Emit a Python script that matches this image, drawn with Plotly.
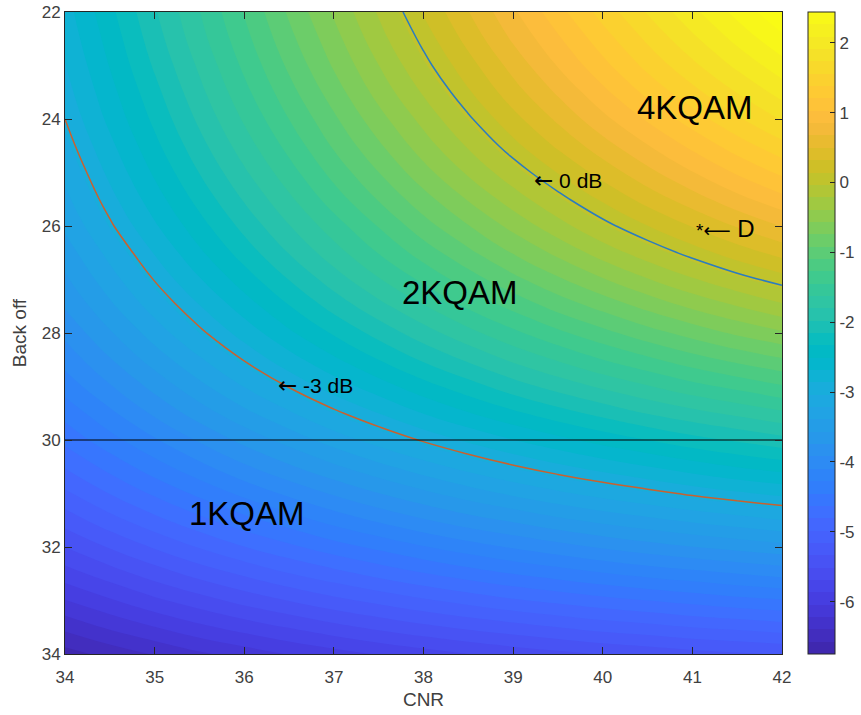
import plotly.graph_objects as go

# ---- data (values read / estimated from the reference) ----
cnr = [34, 34.5, 35, 35.5, 36, 36.5, 37, 37.5, 38, 38.5, 39, 39.5, 40, 40.5, 41, 41.5, 42]
back_off = [22, 22.5, 23, 23.5, 24, 24.5, 25, 25.5, 26, 26.5, 27, 27.5, 28, 28.5,
            29, 29.5, 30, 30.5, 31, 31.5, 32, 32.5, 33, 33.5, 34]
# margin in units of 0.01 dB, one row per back-off value
margin_cdb = [
    [-276, -238, -200, -163, -126, -89, -54, -19, 16, 49, 82, 114, 145, 175, 204, 232, 259],
    [-281, -244, -206, -169, -133, -97, -63, -28, 5, 38, 70, 100, 130, 159, 187, 214, 240],
    [-287, -250, -213, -177, -141, -106, -72, -39, -6, 25, 56, 86, 115, 143, 169, 195, 219],
    [-293, -257, -221, -185, -150, -116, -83, -50, -19, 12, 42, 70, 98, 125, 150, 174, 198],
    [-300, -264, -229, -194, -160, -127, -95, -63, -33, -3, 26, 53, 80, 105, 129, 153, 175],
    [-308, -273, -238, -204, -171, -139, -107, -77, -47, -19, 9, 35, 60, 84, 107, 129, 150],
    [-317, -282, -248, -215, -183, -152, -121, -92, -63, -36, -10, 15, 39, 62, 84, 105, 124],
    [-326, -292, -259, -227, -196, -166, -136, -108, -81, -55, -30, -6, 17, 39, 59, 79, 97],
    [-336, -303, -271, -240, -210, -181, -153, -126, -99, -75, -51, -28, -6, 14, 33, 51, 68],
    [-348, -316, -285, -254, -225, -197, -170, -144, -119, -96, -73, -52, -31, -12, 6, 23, 38],
    [-360, -329, -299, -270, -242, -215, -189, -164, -141, -118, -97, -77, -58, -40, -23, -7, 7],
    [-373, -343, -314, -287, -260, -234, -209, -186, -164, -142, -122, -103, -86, -69, -53, -39, -25],
    [-388, -359, -331, -304, -279, -254, -231, -209, -188, -168, -149, -131, -115, -99, -85, -71, -59],
    [-403, -376, -349, -324, -299, -276, -254, -233, -213, -195, -177, -161, -145, -131, -117, -105, -94],
    [-420, -394, -369, -344, -321, -299, -278, -259, -240, -223, -206, -191, -177, -164, -151, -140, -129],
    [-439, -414, -389, -366, -344, -324, -304, -286, -268, -252, -237, -223, -210, -197, -186, -176, -166],
    [-458, -434, -412, -390, -369, -350, -331, -314, -298, -283, -269, -256, -244, -233, -222, -213, -204],
    [-479, -457, -435, -415, -395, -377, -360, -344, -329, -315, -302, -290, -279, -269, -259, -250, -243],
    [-502, -480, -460, -441, -423, -406, -390, -375, -361, -348, -336, -325, -315, -306, -297, -289, -282],
    [-526, -505, -486, -468, -451, -436, -421, -407, -394, -382, -372, -361, -352, -344, -336, -329, -322],
    [-551, -532, -514, -497, -481, -467, -453, -441, -429, -418, -408, -399, -390, -382, -375, -369, -363],
    [-577, -560, -543, -527, -513, -499, -487, -475, -464, -454, -445, -437, -429, -422, -416, -410, -404],
    [-605, -589, -573, -559, -545, -533, -521, -511, -501, -492, -483, -476, -469, -463, -457, -451, -447],
    [-635, -619, -605, -591, -579, -568, -557, -547, -538, -530, -523, -516, -509, -504, -498, -494, -489],
    [-665, -651, -638, -625, -614, -603, -594, -585, -577, -569, -562, -556, -550, -545, -540, -536, -532],
]
colorbar_min = -6.75
colorbar_max = 2.44
colorbar_ticks = [-6, -5, -4, -3, -2, -1, 0, 1, 2]
x_ticks = [34, 35, 36, 37, 38, 39, 40, 41, 42]
y_ticks = [22, 24, 26, 28, 30, 32, 34]
contour_levels = [0, -3]
boundary_back_off = 30
region_labels = ["4KQAM", "2KQAM", "1KQAM"]
region_x = [41.03, 38.41, 36.03]
region_y = [23.78, 27.25, 31.38]
level_labels = ["0 dB", "-3 dB"]
level_label_x = [39.22, 36.37]
level_label_y = [25.14, 28.97]
point_label = "D"
point_x = 41.03
point_y = 26.04

margin_db = [[v / 100 for v in row] for row in margin_cdb]

# ---- style ----
parula = [
[0.2422,0.1504,0.6603],[0.2504,0.1650,0.7076],[0.2578,0.1818,0.7511],[0.2647,0.1978,0.7952],
[0.2706,0.2147,0.8364],[0.2751,0.2342,0.8710],[0.2783,0.2559,0.8991],[0.2803,0.2782,0.9221],
[0.2813,0.3006,0.9414],[0.2810,0.3228,0.9579],[0.2795,0.3447,0.9717],[0.2760,0.3667,0.9829],
[0.2699,0.3892,0.9906],[0.2602,0.4123,0.9952],[0.2440,0.4358,0.9988],[0.2206,0.4603,0.9973],
[0.1963,0.4847,0.9892],[0.1834,0.5074,0.9798],[0.1786,0.5289,0.9682],[0.1764,0.5499,0.9520],
[0.1687,0.5703,0.9359],[0.1540,0.5902,0.9218],[0.1460,0.6091,0.9079],[0.1380,0.6276,0.8973],
[0.1248,0.6459,0.8883],[0.1113,0.6635,0.8763],[0.0952,0.6798,0.8598],[0.0689,0.6948,0.8394],
[0.0297,0.7082,0.8163],[0.0036,0.7203,0.7917],[0.0067,0.7312,0.7660],[0.0433,0.7411,0.7394],
[0.0964,0.7500,0.7120],[0.1408,0.7584,0.6842],[0.1717,0.7670,0.6554],[0.1938,0.7758,0.6251],
[0.2161,0.7843,0.5923],[0.2470,0.7918,0.5567],[0.2906,0.7973,0.5188],[0.3406,0.8008,0.4789],
[0.3909,0.8029,0.4354],[0.4456,0.8024,0.3909],[0.5044,0.7993,0.3480],[0.5616,0.7942,0.3045],
[0.6174,0.7876,0.2612],[0.6720,0.7793,0.2227],[0.7242,0.7698,0.1910],[0.7738,0.7598,0.1646],
[0.8203,0.7498,0.1535],[0.8634,0.7406,0.1596],[0.9035,0.7330,0.1774],[0.9393,0.7288,0.2100],
[0.9728,0.7298,0.2394],[0.9956,0.7434,0.2371],[0.9970,0.7659,0.2199],[0.9952,0.7893,0.2028],
[0.9892,0.8136,0.1885],[0.9786,0.8386,0.1766],[0.9676,0.8639,0.1643],[0.9610,0.8890,0.1537],
[0.9597,0.9135,0.1423],[0.9628,0.9373,0.1265],[0.9691,0.9606,0.1064],[0.9769,0.9839,0.0805]]
cs = [[i / 63, 'rgb(%d,%d,%d)' % tuple(round(v * 255) for v in c)] for i, c in enumerate(parula)]

FONT = "Liberation Sans, Arial, Helvetica, sans-serif"
ARROW = '<span style="font-family:DejaVu Sans;font-size:23px">\u2190</span>'
LONG_ARROW = '<span style="font-family:DejaVu Sans">\u27f5</span>'
AX = '#262626'
TXT = '#404040'
line_colors = ['#2b7cc0', '#c9612f']
n_bands = 52

fig = go.Figure()
fig.add_trace(go.Contour(
    x=cnr, y=back_off, z=margin_db, colorscale=cs, zmin=colorbar_min, zmax=colorbar_max,
    contours=dict(start=colorbar_min, end=colorbar_max + 0.3,
                  size=(colorbar_max - colorbar_min) / n_bands, coloring='fill'),
    line=dict(width=0, smoothing=1.3), hoverinfo='skip',
    colorbar=dict(x=1.0363, xanchor='left', xpad=0, y=0.5, yanchor='middle', len=1, ypad=0,
                  thickness=27, outlinecolor=AX, outlinewidth=1, ticks='inside', ticklen=5,
                  tickcolor=AX, tickvals=colorbar_ticks,
                  ticktext=[str(t) for t in colorbar_ticks],
                  tickfont=dict(family=FONT, size=17, color=TXT)),
))
for lvl, col in zip(contour_levels, line_colors):
    fig.add_trace(go.Contour(
        x=cnr, y=back_off, z=margin_db, showscale=False, hoverinfo='skip',
        contours=dict(start=lvl, end=lvl, size=1, coloring='none'),
        line=dict(color=col, width=1.5, smoothing=1.3),
    ))
fig.add_trace(go.Scatter(x=[cnr[0], cnr[-1]], y=[boundary_back_off, boundary_back_off],
                         mode='lines', line=dict(color='black', width=1.2),
                         showlegend=False, hoverinfo='skip'))

for t, x, y in zip(region_labels, region_x, region_y):
    fig.add_annotation(x=x, y=y, text=t, showarrow=False, xanchor='center', yanchor='middle',
                       font=dict(family=FONT, size=33, color='black'))
for t, x, y in zip(level_labels, level_label_x, level_label_y):
    fig.add_annotation(x=x, y=y, text=ARROW + ' ' + t, showarrow=False, xanchor='left',
                       yanchor='middle', borderpad=0,
                       font=dict(family=FONT, size=21, color='black'))
fig.add_annotation(x=point_x, y=point_y,
                   text='<span style="font-size:19px">*' + LONG_ARROW + '</span> ' + point_label,
                   showarrow=False, xanchor='left', yanchor='middle', borderpad=0,
                   font=dict(family=FONT, size=24, color='black'))

axis_common = dict(showgrid=False, zeroline=False, showline=True, linecolor=AX, linewidth=1,
                   mirror='ticks', ticks='inside', ticklen=7, tickcolor=AX,
                   tickfont=dict(family=FONT, size=17, color=TXT))
fig.update_xaxes(range=[cnr[0], cnr[-1]], tickvals=x_ticks, ticklabelstandoff=8,
                 title=dict(text='CNR', standoff=6, font=dict(family=FONT, size=19, color=TXT)),
                 **axis_common)
fig.update_yaxes(range=[back_off[-1], back_off[0]], tickvals=y_ticks,
                 title=dict(text='Back off', standoff=10,
                            font=dict(family=FONT, size=19, color=TXT)), **axis_common)
fig.update_layout(width=861, height=715,
                  margin=dict(l=65, r=79, t=12, b=61, autoexpand=False),
                  paper_bgcolor='white', plot_bgcolor='white', showlegend=False,
                  font=dict(family=FONT))
fig.write_html("out.html")
